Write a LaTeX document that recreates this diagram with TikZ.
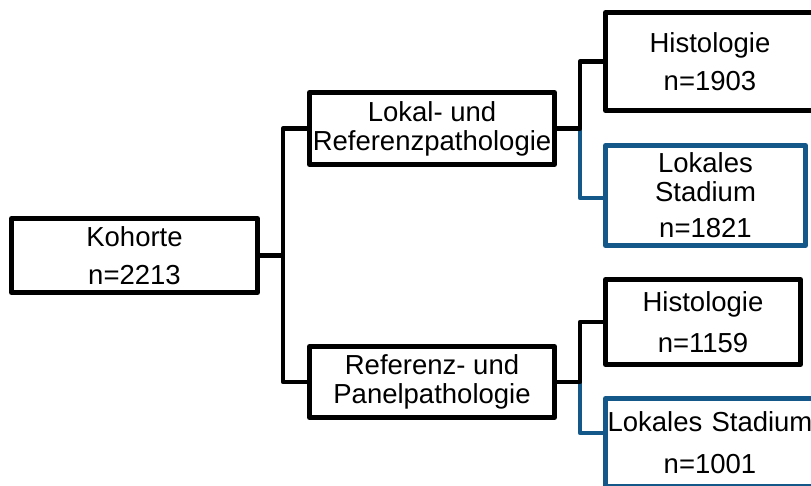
\documentclass[tikz,border=0pt]{standalone}
\usepackage{fontspec}
\setmainfont{Liberation Sans}
\definecolor{stageblue}{RGB}{20,88,138}
\begin{document}
\begin{tikzpicture}[x=1bp,y=-1bp,
  box/.style={draw=black,line width=5bp,line join=round,inner sep=0pt,
    align=center,font=\fontsize{27.5bp}{29bp}\selectfont},
  bluebox/.style={box,draw=stageblue},
  link/.style={draw=black,line width=4.5bp,line join=round},
  bluelink/.style={link,draw=stageblue}]
\useasboundingbox (0,0) rectangle (811,486);

% cohort and the two pathology branches
\node[box,minimum width=246bp,minimum height=74bp] (koh) at (134.5,255.5)
  {Kohorte\\[9bp]n=2213};
\node[box,minimum width=245bp,minimum height=72bp] (lok) at (432,128.5)
  {Lokal- und\\Referenzpathologie};
\node[box,minimum width=245bp,minimum height=71bp] (ref) at (432,382)
  {Referenz- und\\Panelpathologie};

% outcome boxes
\node[box,minimum width=209bp,minimum height=98bp] (hist1) at (710,61.5)
  {Histologie\\[9bp]n=1903};
\node[bluebox,minimum width=200bp,minimum height=100bp] (lst1) at (705.5,195.5)
  {Lokales\\Stadium\\[7bp]n=1821};
\node[box,minimum width=195bp,minimum height=85bp] (hist2) at (703,322)
  {Histologie\\[12bp]n=1159};
\node[bluebox,minimum width=209bp,minimum height=88bp,text width=209bp] (lst2) at (710,442.5)
  {Lokales Stadium\\[13bp]n=1001};

% junction points
\path (koh.east) -- ++(23,0) coordinate (j0);
\path (lok.east) -- ++(23,0) coordinate (j1);
\path (ref.east) -- ++(23,0) coordinate (j2);

% connectors
\draw[link] (koh.east) -- (j0) |- (lok.west);
\draw[link] (j0) |- (ref.west);

\draw[bluelink] (j1) |- ([yshift=-2.5bp]lst1.west);
\draw[link] (lok.east) -- (j1) |- (hist1.west);

\draw[bluelink] (j2) |- ([yshift=9.5bp]lst2.west);
\draw[link] (ref.east) -- (j2) |- (hist2.west);
\end{tikzpicture}
\end{document}
